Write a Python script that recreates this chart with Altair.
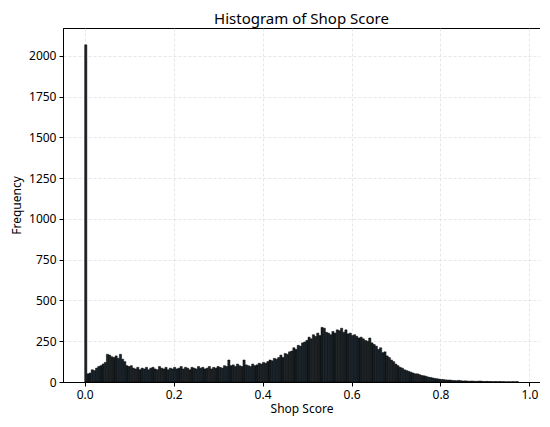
import altair as alt
import pandas as pd
import numpy as np

# Histogram counts per bin (200 bins between 0 and 0.975)
counts = [
    2068, 50, 55, 75, 70, 85, 95, 100, 110, 120,
    170, 165, 155, 150, 160, 145, 170, 140, 125, 100,
    95, 100, 85, 80, 90, 75, 85, 80, 90, 75,
    85, 90, 80, 75, 95, 85, 80, 90, 75, 85,
    80, 90, 80, 85, 95, 80, 90, 85, 75, 90,
    85, 80, 95, 85, 90, 80, 85, 95, 80, 90,
    85, 95, 90, 85, 100, 95, 135, 100, 105, 95,
    110, 100, 95, 135, 105, 100, 95, 110, 100, 105,
    115, 110, 120, 115, 125, 135, 130, 145, 140, 150,
    165, 150, 175, 170, 185, 190, 210, 200, 225, 220,
    240, 245, 255, 275, 265, 290, 280, 300, 285, 335,
    330, 305, 300, 290, 310, 300, 320, 315, 330, 305,
    320, 295, 300, 285, 290, 280, 270, 275, 265, 255,
    250, 270, 240, 230, 220, 200, 210, 180, 185, 160,
    150, 135, 125, 110, 100, 90, 85, 75, 70, 65,
    60, 55, 50, 50, 45, 40, 38, 35, 30, 28,
    25, 22, 20, 18, 16, 15, 13, 12, 12, 10,
    9, 8, 10, 8, 6, 7, 6, 5, 6, 5,
    4, 5, 6, 4, 3, 4, 3, 3, 2, 3,
    2, 3, 2, 2, 1, 2, 1, 2, 1, 3,
]
score_min = 0.0
score_max = 0.975
x_ticks = [0.0, 0.2, 0.4, 0.6, 0.8, 1.0]
y_ticks = [0, 250, 500, 750, 1000, 1250, 1500, 1750, 2000]

edges = np.linspace(score_min, score_max, len(counts) + 1)
df = pd.DataFrame({"start": edges[:-1], "end": edges[1:], "count": counts})

span = score_max - score_min
xdom = [score_min - 0.05 * span, score_max + 0.05 * span]
ydom = [0, max(counts) * 1.05]

font = "Noto Sans"

chart = alt.Chart(df).mark_rect(
    fill="#1a2329", stroke="#000000", strokeWidth=0.5
).encode(
    x=alt.X("start:Q", scale=alt.Scale(domain=xdom, nice=False, zero=False),
            axis=alt.Axis(values=x_ticks, format=".1f", title="Shop Score")),
    x2="end:Q",
    y=alt.Y("count:Q", scale=alt.Scale(domain=ydom, nice=False),
            axis=alt.Axis(values=y_ticks, format="d", title="Frequency")),
    y2=alt.datum(0),
).properties(
    width=477, height=354,
    title=alt.TitleParams("Histogram of Shop Score", fontSize=15, font=font,
                          fontWeight="normal", color="#000000", offset=1),
    padding={"left": 2, "top": 4, "right": 0, "bottom": 2},
).configure_view(
    stroke="#000000", strokeWidth=1
).configure_axis(
    grid=True, gridColor="#d4d4d4", gridDash=[3, 2], gridWidth=0.7, gridOpacity=0.8,
    domainColor="#000000", domainWidth=1,
    tickColor="#000000", tickSize=4, tickWidth=1,
    labelFont=font, labelFontSize=12, labelColor="#000000",
    titleFont=font, titleFontSize=12, titleFontWeight="normal", titleColor="#000000",
    labelPadding=3,
).configure_axisY(titlePadding=5).configure_axisX(titlePadding=3)

chart.save("out.html", embed_options={"renderer": "svg", "actions": False})
